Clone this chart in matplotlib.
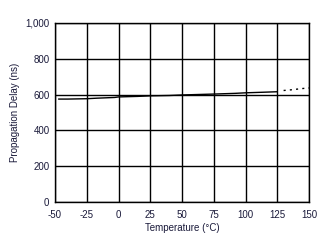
import matplotlib
matplotlib.use("Agg")
import matplotlib.pyplot as plt
from matplotlib.ticker import FuncFormatter

temps = [-47, -40, -25, -17, -3, 0, 15, 25, 40, 50, 70, 75, 92, 100, 113, 125]
delay = [575, 575, 577, 580, 584, 587, 590, 593, 595, 598, 602, 603, 607, 610, 613, 616]
tail_t = [130, 135, 140, 145, 150]
tail_d = [623, 626, 630, 634, 637]

xticks = [-50, -25, 0, 25, 50, 75, 100, 125, 150]
yticks = [0, 200, 400, 600, 800, 1000]

plt.rcParams['font.family'] = ['Liberation Sans', 'DejaVu Sans']
plt.rcParams['axes.unicode_minus'] = False
fig = plt.figure(figsize=(3.31, 2.43), dpi=100)
ax = fig.add_axes([55/331, 1-202/243, (309-55)/331, (202-23)/243])

ax.plot(temps, delay, color='black', lw=1.0)
ax.plot(tail_t, tail_d, color='black', lw=1.0, ls=(0, (1.5, 3)))

ax.set_xlim(-50, 150)
ax.set_ylim(0, 1000)
ax.set_xticks(xticks)
ax.set_yticks(yticks)
ax.yaxis.set_major_formatter(FuncFormatter(lambda v, p: f"{int(v):,}"))
ax.grid(True, color='black', lw=1.0)
ax.set_axisbelow(True)
for s in ax.spines.values():
    s.set_linewidth(1.0)
ax.tick_params(axis='x', length=0, labelsize=7, pad=6, colors='#1a1a3a')
ax.tick_params(axis='y', length=0, labelsize=7, pad=4, colors='#1a1a3a')
ax.set_xlabel('Temperature (°C)', fontsize=7, labelpad=2, color='#1a1a3a')
ax.set_ylabel('Propagation Delay (ns)', fontsize=7, labelpad=4, color='#1a1a3a')
fig.savefig('out.png', dpi=100)
